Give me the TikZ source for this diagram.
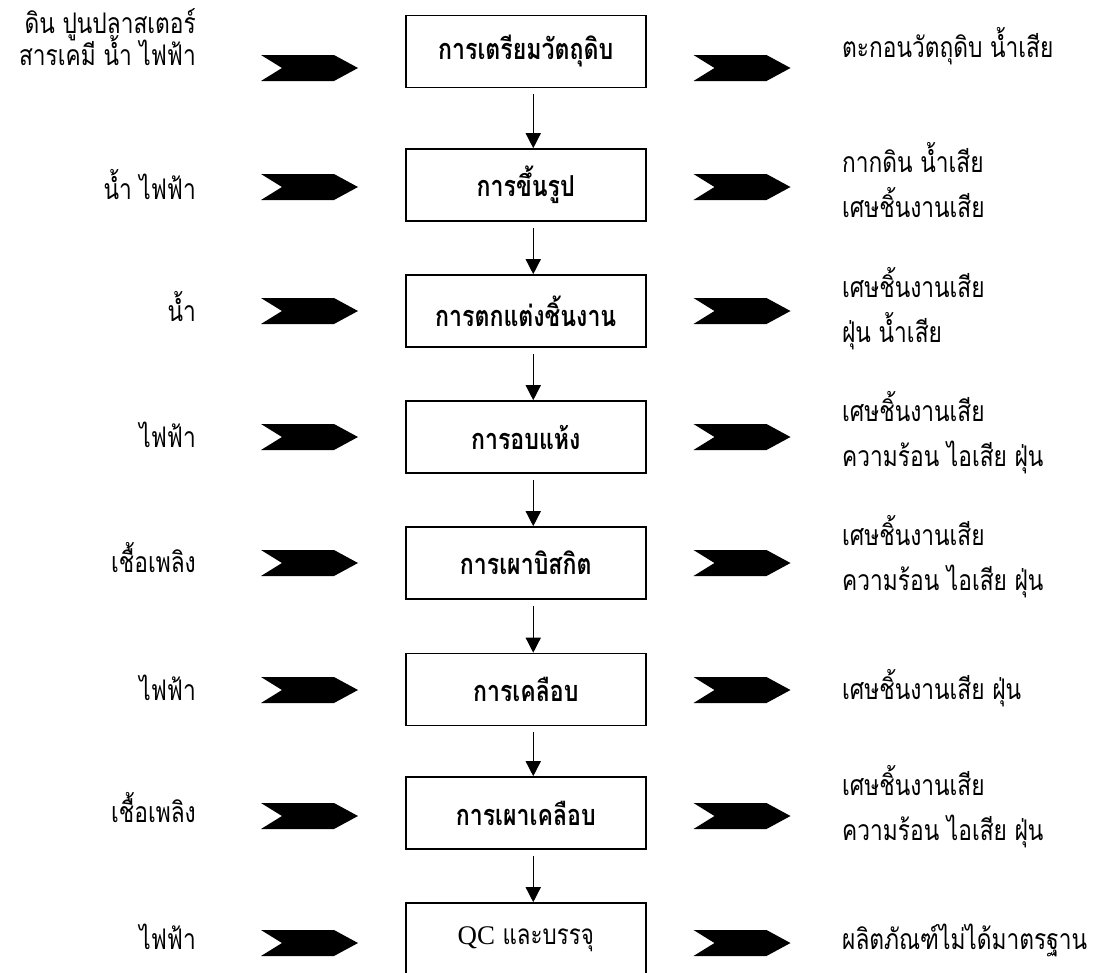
\documentclass[tikz,border=0pt]{standalone}
\usepackage{fontspec}
\setmainfont[Script=Thai, FakeStretch=0.8]{Loma}
\newfontfamily\latinserif{Liberation Serif}
\usetikzlibrary{arrows.meta}
% keep the line pitch fixed even with stacked Thai marks
\setlength{\lineskiplimit}{-100pt}

\tikzset{
  stage/.style={draw, line width=1.6bp, minimum width=240bp, minimum height=72bp,
    inner sep=0pt, font=\fontsize{29}{30}\selectfont\bfseries},
  inlabel/.style={anchor=east, align=right, inner sep=0pt,
    font=\fontsize{28.5}{32}\selectfont},
  outlabel/.style={anchor=west, align=left, inner sep=0pt,
    font=\fontsize{28.5}{45}\selectfont},
  flow/.style={line width=1.4bp, -{Triangle[width=15bp,length=15bp]}},
  chevron/.pic={\fill (-48.5,-13) -- (24.5,-13) -- (48.5,0) -- (24.5,13)
    -- (-48.5,13) -- (-27.5,0) -- cycle;}
}

\begin{document}
\begin{tikzpicture}[x=1bp, y=-1bp]
\useasboundingbox (0,0) rectangle (1099,973);

% process stages
\node[stage] (s1) at (525.75,51.5) {การเตรียมวัตถุดิบ};
\node[stage] (s2) at (525.75,185)  {การขึ้นรูป};
\node[stage] (s3) at (525.75,311)  {การตกแต่งชิ้นงาน};
\node[stage] (s4) at (525.75,437)  {การอบแห้ง};
\node[stage] (s5) at (525.75,563)  {การเผาบิสกิต};
\node[stage] (s6) at (525.75,689.5){การเคลือบ};
\node[stage] (s7) at (525.75,813)  {การเผาเคลือบ};
\node[stage, font=\fontsize{28}{30}\selectfont] (s8) at (525.75,939)
  {{\latinserif\fontsize{27}{28}\selectfont QC} และบรรจุ};

% flow between stages
\foreach \a/\b in {s1/s2, s2/s3, s3/s4, s4/s5, s5/s6, s6/s7, s7/s8}
  \draw[flow] ([xshift=7.5bp, yshift=-6bp]\a.south) -- ([xshift=7.5bp]\b.north);

% input and output chevrons
\foreach \y [count=\i] in {68,187,311,437,563,690,816,943}{
  \pic (in\i)  at (309.5,\y) {chevron};
  \pic (out\i) at (742,\y)   {chevron};
}

% inputs
\node[inlabel] (i1) at (196,37)  {ดิน ปูนปลาสเตอร์\\สารเคมี น้ำ ไฟฟ้า};
\node[inlabel] (i2) at (196,185) {น้ำ ไฟฟ้า};
\node[inlabel] (i3) at (196,307) {น้ำ};
\node[inlabel] (i4) at (196,435) {ไฟฟ้า};
\node[inlabel] (i5) at (196,558) {เชื้อเพลิง};
\node[inlabel] (i6) at (196,688) {ไฟฟ้า};
\node[inlabel] (i7) at (196,808) {เชื้อเพลิง};
\node[inlabel] (i8) at (196,937) {ไฟฟ้า};

% outputs
\node[outlabel] (o1) at (842,46)  {ตะกอนวัตถุดิบ น้ำเสีย};
\node[outlabel] (o2) at (842,180) {กากดิน น้ำเสีย\\เศษชิ้นงานเสีย};
\node[outlabel] (o3) at (842,309) {เศษชิ้นงานเสีย\\ฝุ่น น้ำเสีย};
\node[outlabel] (o4) at (842,433) {เศษชิ้นงานเสีย\\ความร้อน ไอเสีย ฝุ่น};
\node[outlabel] (o5) at (842,557) {เศษชิ้นงานเสีย\\ความร้อน ไอเสีย ฝุ่น};
\node[outlabel] (o6) at (842,688) {เศษชิ้นงานเสีย ฝุ่น};
\node[outlabel] (o7) at (842,807) {เศษชิ้นงานเสีย\\ความร้อน ไอเสีย ฝุ่น};
\node[outlabel] (o8) at (842,940) {ผลิตภัณฑ์ไม่ได้มาตรฐาน};
\end{tikzpicture}
\end{document}
